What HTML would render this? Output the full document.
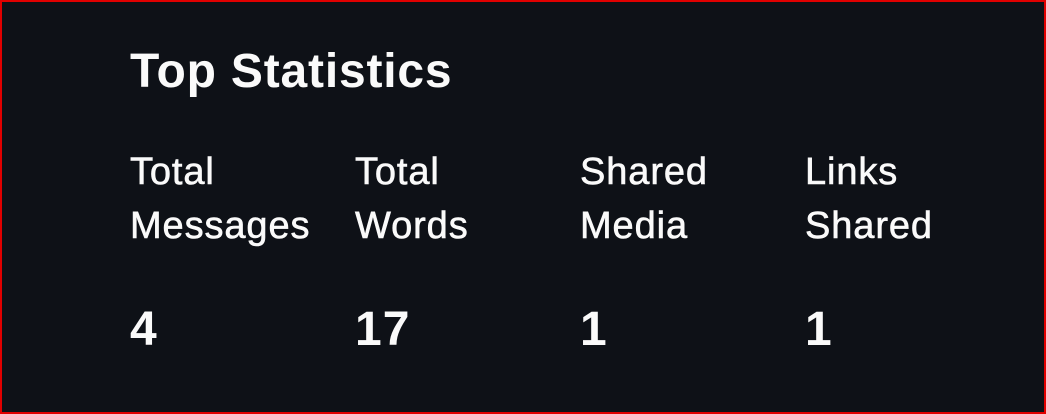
<!DOCTYPE html>
<html><head><meta charset="utf-8"><style>
html,body{margin:0;padding:0}
body{width:1046px;height:414px;overflow:hidden;background:#0e1117;font-family:"Liberation Sans",sans-serif;color:#fafafa}
.frame{position:absolute;left:0;top:0;width:1042px;height:410px;border:2px solid #e00000;}
h1{position:absolute;left:130px;top:42px;margin:0;font-size:48px;font-weight:700;line-height:60px;letter-spacing:0.8px}
.col{position:absolute;top:145px;width:220px}
.lab{font-size:38px;line-height:54px;letter-spacing:0.9px;-webkit-text-stroke:0.6px #fafafa}
.val{position:absolute;top:300px;font-size:48px;font-weight:700;line-height:60px;letter-spacing:1px}
</style></head><body>
<div class="frame"></div>
<h1>Top Statistics</h1>
<div class="col" style="left:130px"><div class="lab">Total<br>Messages</div></div>
<div class="col" style="left:355px"><div class="lab">Total<br>Words</div></div>
<div class="col" style="left:580px"><div class="lab">Shared<br>Media</div></div>
<div class="col" style="left:805px"><div class="lab">Links<br>Shared</div></div>
<div class="val" style="left:130px">4</div>
<div class="val" style="left:355px">17</div>
<div class="val" style="left:580px">1</div>
<div class="val" style="left:805px">1</div>
</body></html>
